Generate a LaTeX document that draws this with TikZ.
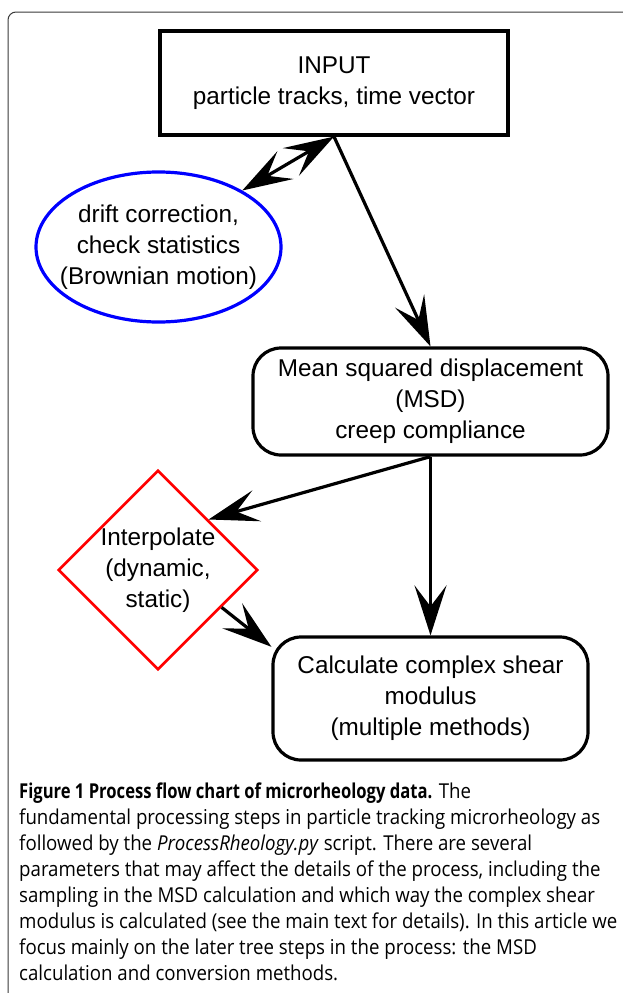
\documentclass[tikz,border=0pt]{standalone}
\usepackage{fontspec}
\setmainfont{Liberation Sans}
\newfontfamily\capfont{Open Sans}[FakeStretch=0.91]
\newfontfamily\capboldfont{Open Sans}[FakeStretch=0.81]
\usetikzlibrary{arrows.meta,shapes.geometric,calc}

\definecolor{framegray}{RGB}{58,58,58}

\tikzset{
    box/.style={draw, line width=3.2pt, align=center, inner sep=0pt,
        font=\fontsize{24.3}{31}\selectfont},
    bighead/.tip={Stealth[length=50pt, width=32pt, inset=21pt]},
    flow/.style={line width=3.2pt, -bighead},
}

\begin{document}
\begin{tikzpicture}[x=1pt, y=-1pt]
    \useasboundingbox (0,0) rectangle (623,993);
    \fill[white] (0,0) rectangle (623,993);
    \draw[framegray, line width=1pt, rounded corners=8pt] (8,993) -- (8,12) -- (623,12);

    \node[box, minimum width=348pt, minimum height=104pt] (input) at (334, 83) {INPUT\\particle tracks, time vector};
    \node[box, draw=blue, line width=3.2pt, ellipse, inner sep=-30pt,
          minimum width=245pt, minimum height=150pt] (drift) at (158.5, 247) {drift correction,\\check statistics\\(Brownian motion)};
    \node[box, rounded corners=28pt, minimum width=355pt, minimum height=107pt] (msd) at (430.5, 401.5) {Mean squared displacement\\(MSD)\\creep compliance};
    \node[box, draw=red, line width=2.6pt, diamond, aspect=1,
          minimum width=199pt, minimum height=199pt] (interp) at (158, 570) {Interpolate\\(dynamic,\\static)};
    \node[box, rounded corners=28pt, minimum width=315pt, minimum height=123pt] (modulus) at (430.5, 698.5) {Calculate complex shear\\modulus\\(multiple methods)};

    \draw[line width=3.2pt, bighead-bighead] (drift.34) -- (input.south);
    \draw[flow] (input.south) -- (msd.north);
    \draw[flow] (msd.south) -- (interp.north east);
    \draw[flow] (msd.south) -- (modulus.north);
    \draw[flow] ($(interp.east)!0.37!(interp.south)$) -- (modulus.162);

    \node[anchor=north west, align=left, inner sep=0pt,
          font=\capfont\fontsize{20.5}{26}\selectfont] (caption) at (19, 783)
        {{\capboldfont\bfseries Figure 1 Process flow chart of microrheology data.} The\\
         fundamental processing steps in particle tracking microrheology as\\
         followed by the \textit{ProcessRheology.py} script. There are several\\
         parameters that may affect the details of the process, including the\\
         sampling in the MSD calculation and which way the complex shear\\
         modulus is calculated (see the main text for details). In this article we\\
         focus mainly on the later tree steps in the process: the MSD\\
         calculation and conversion methods.};
\end{tikzpicture}
\end{document}
